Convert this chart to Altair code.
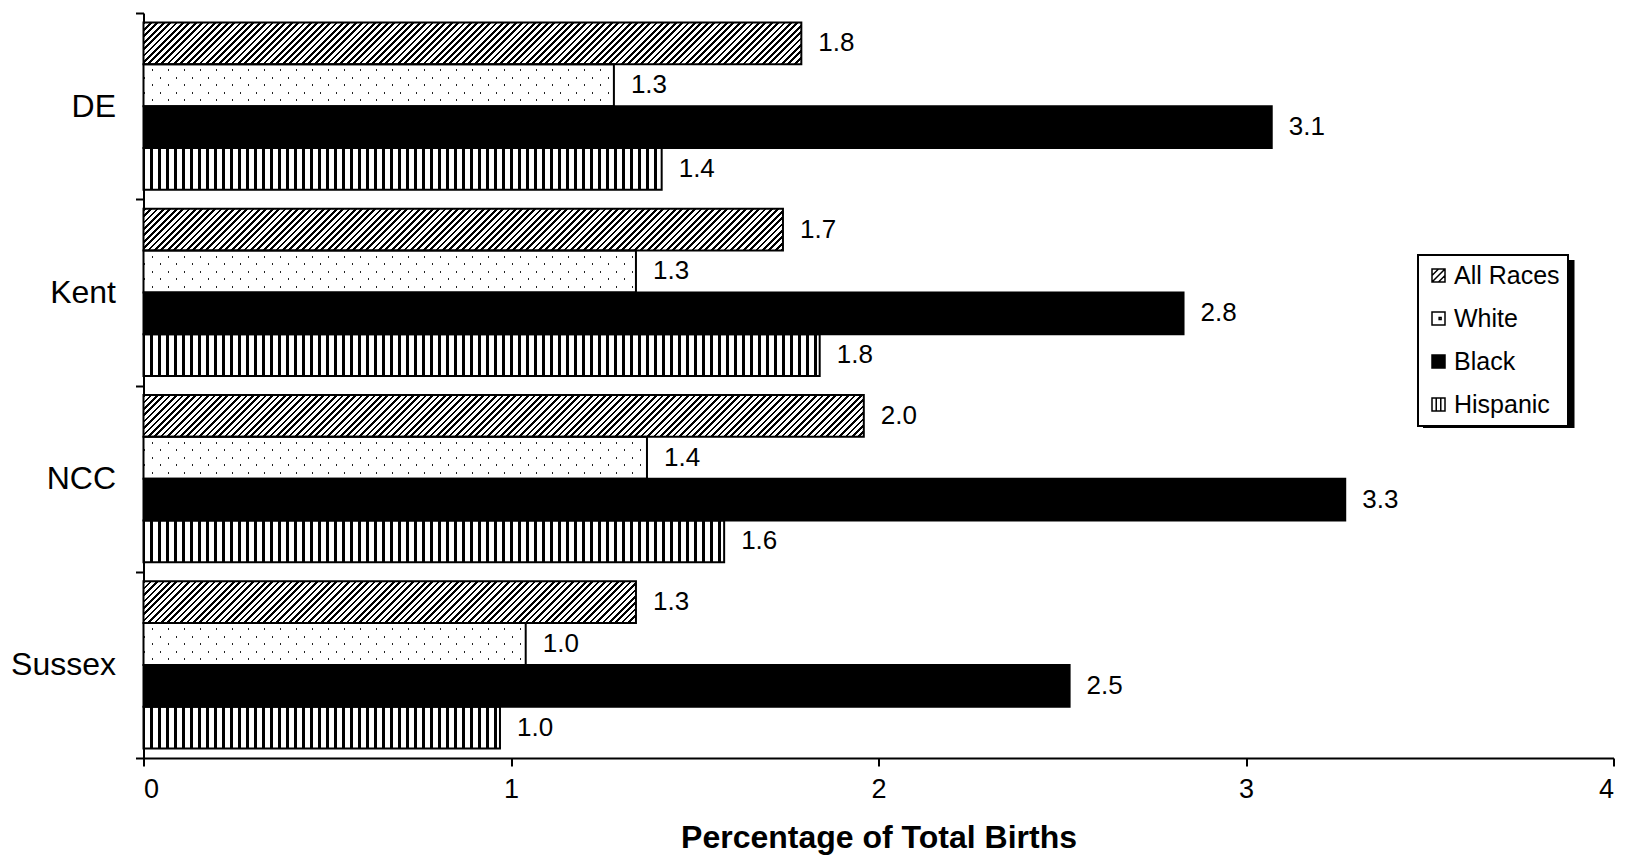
import math
import altair as alt
import pandas as pd

regions = ["DE", "Kent", "NCC", "Sussex"]
races = ["All Races", "White", "Black", "Hispanic"]
all_races = [1.79, 1.74, 1.96, 1.34]
white = [1.28, 1.34, 1.37, 1.04]
black = [3.07, 2.83, 3.27, 2.52]
hispanic = [1.41, 1.84, 1.58, 0.97]

series = {"All Races": all_races, "White": white, "Black": black, "Hispanic": hispanic}

rows = []
i = 0
for ri, reg in enumerate(regions):
    for race in races:
        rows.append({"id": i, "region": reg, "race": race, "value": series[race][ri]})
        i += 1
df = pd.DataFrame(rows)

# ---- layout / style constants ----
PLOT_W = 1470
PLOT_H = 745
X_MAX = 4
OFF_PAD = 0.23
BAND = PLOT_H / len(regions)
BAR_H = BAND / (len(races) + 2 * OFF_PAD)
FONT = "Liberation Sans"
CLEAR = "rgba(255,255,255,0)"


def stops_for(total, period, on_len, phase, on_color, off_color):
    pts = {0.0, float(total)}
    k = math.floor((0 - phase) / period) - 1
    while True:
        a = phase + k * period
        if a > total:
            break
        for e in (a, a + on_len):
            if 0 < e < total:
                pts.add(e)
        k += 1
    pts = sorted(pts)
    out = []
    for s0, s1 in zip(pts[:-1], pts[1:]):
        mid = (s0 + s1) / 2
        c = on_color if ((mid - phase) % period) < on_len else off_color
        out.append({"offset": round(s0 / total, 6), "color": c})
        out.append({"offset": round(s1 / total, 6), "color": c})
    return out


def grad_along(aw, bh, stops):
    L = aw + bh
    c = L / (aw * aw + bh * bh)
    x2 = aw * c
    y2 = bh * c
    return {"gradient": "linear", "x1": 0, "y1": 0,
            "x2": x2 if x2 > 1e-9 else 1e-9, "y2": y2, "stops": stops}


main_conds = []
dot_conds = []
for r in rows:
    w = r["value"] / X_MAX * PLOT_W
    h = BAR_H
    test = f"datum.id == {r['id']}"
    if r["race"] == "All Races":
        g = grad_along(w, h, stops_for(w + h, 6.4, 2.7, 0.0, "black", "white"))
        main_conds.append({"test": test, "value": g})
    elif r["race"] == "White":
        g = grad_along(w, 0, stops_for(w, 8.0, 1.8, 0.1, "#222222", "white"))
        main_conds.append({"test": test, "value": g})
        tot = w / 8.0 + h / 7.5
        g2 = grad_along(w / 8.0, h / 7.5, stops_for(tot, 2.0, 0.6, 1.625, CLEAR, "white"))
        dot_conds.append({"test": test, "value": g2})
    elif r["race"] == "Hispanic":
        g = grad_along(w, 0, stops_for(w, 8.0, 2.2, -1.1, "black", "white"))
        main_conds.append({"test": test, "value": g})

row_mask = grad_along(0, BAR_H, stops_for(BAR_H, 7.5, 1.8, 5.1, CLEAR, "white"))

x_enc = alt.X("value:Q",
              scale=alt.Scale(domain=[0, X_MAX], nice=False, zero=True),
              axis=alt.Axis(values=[0, 1, 2, 3, 4], format="d", tickSize=8, tickWidth=2,
                            domainWidth=2, labelFontSize=27, labelPadding=10,
                            title="Percentage of Total Births", titleFontSize=32,
                            titleFontWeight="bold", titlePadding=20, grid=False))
y_enc = alt.Y("region:N", sort=regions,
              scale=alt.Scale(paddingInner=0, paddingOuter=0),
              axis=alt.Axis(title=None, tickBand="extent", tickSize=8, tickWidth=2,
                            domainWidth=2, labelFontSize=32, labelPadding=20, grid=False))
yo_enc = alt.YOffset("race:N", sort=races,
                     scale=alt.Scale(paddingInner=0, paddingOuter=OFF_PAD))

base = alt.Chart(df).encode(x=x_enc, y=y_enc, yOffset=yo_enc)

main = base.mark_bar(strokeWidth=0).encode(
    fill={"condition": main_conds, "value": "black"}
)
rows_layer = base.transform_filter("datum.race == 'White'").mark_bar(fill=row_mask, strokeWidth=0)
diag_layer = base.transform_filter("datum.race == 'White'").mark_bar(strokeWidth=0).encode(
    fill={"condition": dot_conds, "value": "white"}
)
outline = base.mark_bar(fill="transparent", stroke="black", strokeWidth=2)
labels = base.mark_text(align="left", baseline="middle", dx=17, fontSize=26,
                        font=FONT, color="black").encode(text=alt.Text("value:Q", format=".1f"))

# legend (custom square symbols)
sym_paths = [
    "M-1,-1H1V1H-1Z M-1,0L0,-1 M-1,1L1,-1 M0,1L1,0",
    "M-1,-1H1V1H-1Z M0.1,-0.15H0.4V0.15H0.1Z",
    "M-1,-1H1V1H-1Z",
    "M-1,-1H1V1H-1Z M-0.35,-1V1 M0.35,-1V1",
]
sym_fills = ["white", "white", "black", "white"]
LEG_X = 1274.5
LEG_Y = 242
LEG_W = 151.5
LEG_H = 168
leg = alt.Legend(title=None, orient="none", legendX=LEG_X, legendY=LEG_Y,
                 labelFontSize=25, labelFont=FONT, labelColor="black",
                 symbolSize=169, symbolStrokeColor="black", symbolStrokeWidth=1.5,
                 padding=8, rowPadding=17, labelOffset=3,
                 strokeColor="black", fillColor="white")
legend_layer = alt.Chart(df).transform_filter("false").mark_point(
    filled=True, strokeWidth=1.5, size=169, opacity=1
).encode(
    shape=alt.Shape("race:N", scale=alt.Scale(domain=races, range=sym_paths), legend=leg),
    fill=alt.Fill("race:N", scale=alt.Scale(domain=races, range=sym_fills), legend=leg),
    stroke=alt.Stroke("race:N", scale=alt.Scale(domain=races, range=["black"] * 4), legend=leg),
)

shadow = alt.Chart(pd.DataFrame({"k": [0]})).mark_rect(color="black").encode(
    x=alt.value(LEG_X + 5), x2=alt.value(LEG_X + 5 + LEG_W),
    y=alt.value(LEG_Y + 5), y2=alt.value(LEG_Y + 5 + LEG_H),
)

chart = alt.layer(shadow, main, rows_layer, diag_layer, outline, labels, legend_layer).properties(
    width=PLOT_W, height=PLOT_H, background="white",
    autosize=alt.AutoSizeParams(type="none"),
    padding={"left": 135.5, "top": 5, "right": 6.5, "bottom": 99},
).configure_view(strokeWidth=0).configure_axis(
    domainColor="black", tickColor="black", labelColor="black", titleColor="black",
    labelFont=FONT, titleFont=FONT
).configure_legend(strokeWidth=2)

chart.save("out.html", embed_options={"renderer": "svg", "actions": False})
